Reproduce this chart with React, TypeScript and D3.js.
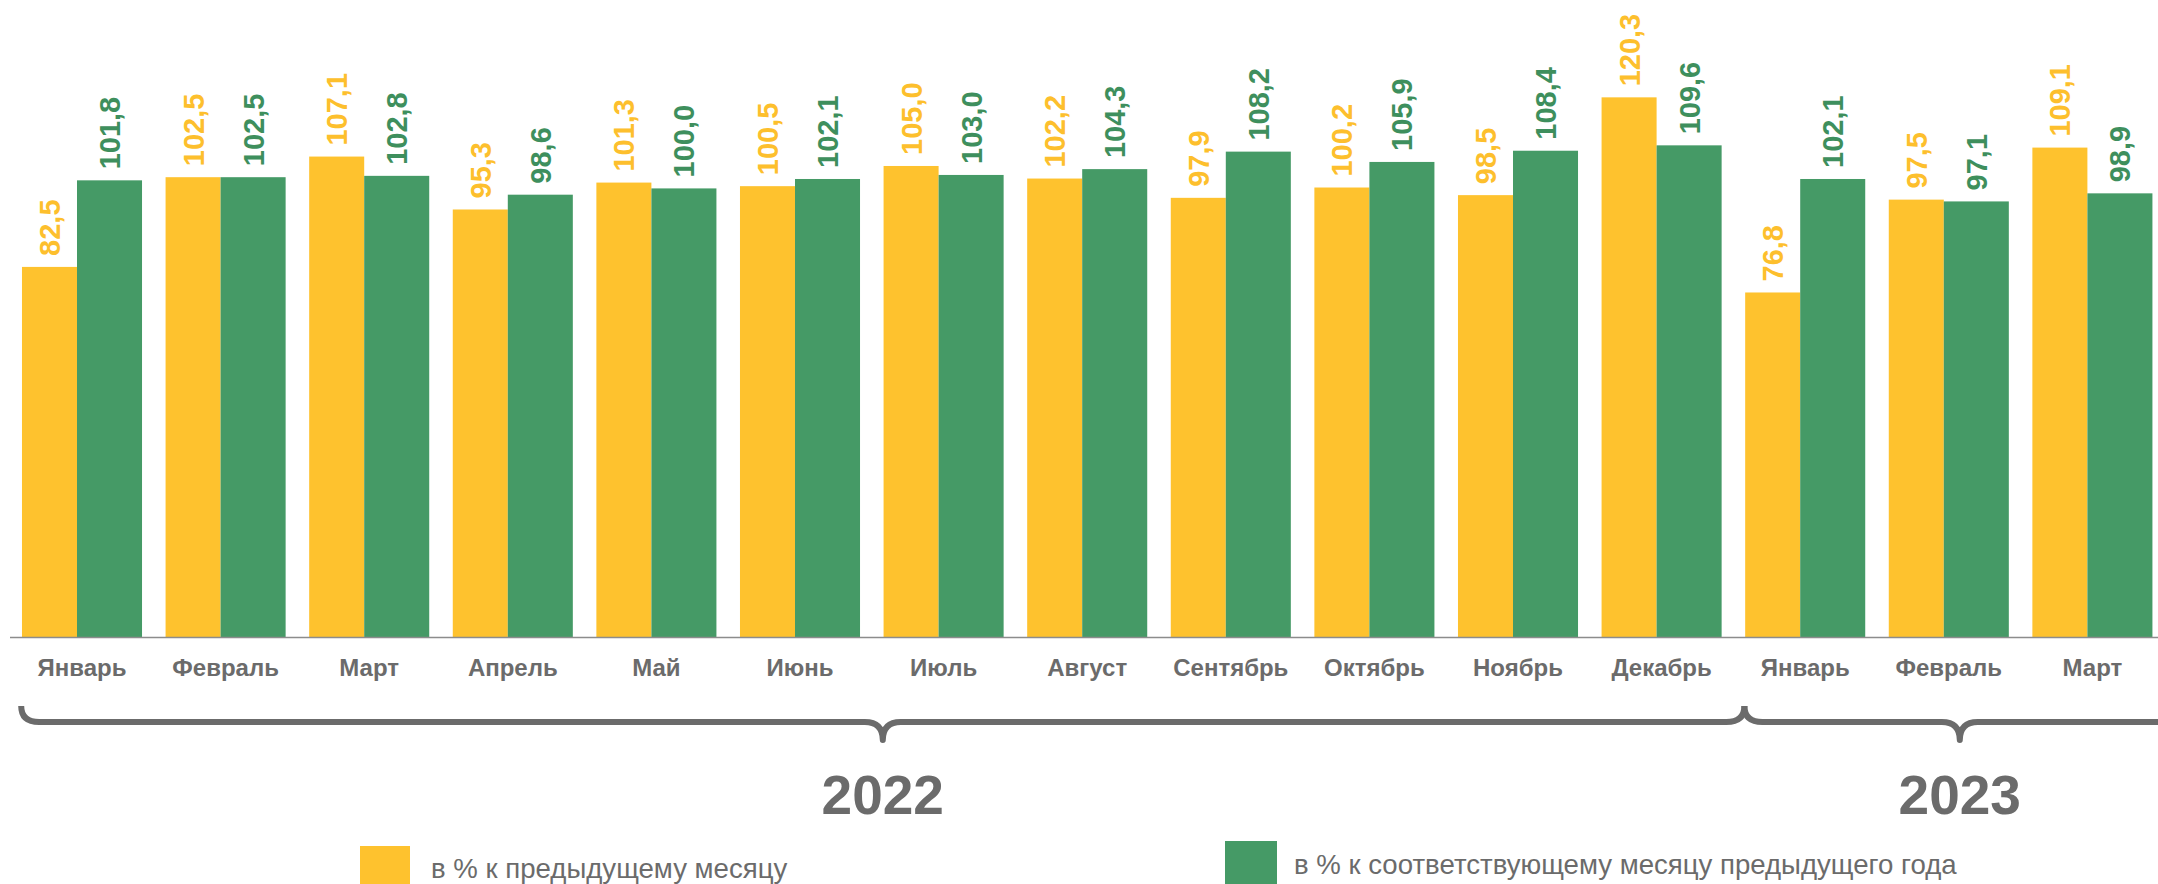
import React from "react";
import * as d3 from "d3";

const months = ["Январь","Февраль","Март","Апрель","Май","Июнь","Июль","Август","Сентябрь","Октябрь","Ноябрь","Декабрь","Январь","Февраль","Март"];
const prevMonth = [82.5,102.5,107.1,95.3,101.3,100.5,105.0,102.2,97.9,100.2,98.5,120.3,76.8,97.5,109.1];
const prevYear = [101.8,102.5,102.8,98.6,100.0,102.1,103.0,104.3,108.2,105.9,108.4,109.6,102.1,97.1,98.9];
const years = [
  { label: "2022", from: 0, to: 11 },
  { label: "2023", from: 12, to: 14 },
];
const legendLabels = ["в % к предыдущему месяцу", "в % к соответствующему месяцу предыдущего года"];

const W = 2158, H = 884;
const YELLOW = "#FEC22E";
const GREEN = "#459A66";
const YELLOW_TXT = "#FDBF2D";
const GREEN_TXT = "#3E8F5D";
const GRAY = "#6B6B6B";
const FONT = "'Liberation Sans', Arial, sans-serif";

export default function App() {
  const idx = months.map((_, i) => i);
  const x = d3.scaleBand<number>().domain(idx).range([10.2, 10.2 + 15 * 143.6]).paddingInner(0.164).paddingOuter(0.082);
  const y = d3.scaleLinear().domain([0, 142]).range([637, 0]);
  const bw = x.bandwidth();
  const yW = bw * (55 / 120);
  const gW = bw - yW;
  const fmt = (v: number) => v.toFixed(1).replace(".", ",");

  const brace = (x1: number, x2: number, top: number, line: number, tip: number) => {
    const r = 18;
    const mid = (x1 + x2) / 2;
    const p = d3.path();
    p.moveTo(x1, top);
    p.quadraticCurveTo(x1, line, x1 + r, line);
    p.lineTo(mid - r, line);
    p.quadraticCurveTo(mid, line, mid, tip);
    p.quadraticCurveTo(mid, line, mid + r, line);
    p.lineTo(x2 - r, line);
    p.quadraticCurveTo(x2, line, x2, top);
    return p.toString();
  };

  return (
    <svg width={W} height={H} style={{ position: "absolute", left: 0, top: 0, background: "#fff" }} fontFamily={FONT}>
      {idx.map((i) => {
        const x0 = x(i)!;
        return (
          <g key={i}>
            <rect x={x0} y={y(prevMonth[i])} width={yW} height={y(0) - y(prevMonth[i])} fill={YELLOW} />
            <rect x={x0 + yW} y={y(prevYear[i])} width={gW} height={y(0) - y(prevYear[i])} fill={GREEN} />
            <text transform={`translate(${x0 + yW / 2},${y(prevMonth[i]) - 11}) rotate(-90)`} dy="0.36em" fontSize={29} fontWeight="bold" fill={YELLOW_TXT}>{fmt(prevMonth[i])}</text>
            <text transform={`translate(${x0 + yW + gW / 2},${y(prevYear[i]) - 11}) rotate(-90)`} dy="0.36em" fontSize={29} fontWeight="bold" fill={GREEN_TXT}>{fmt(prevYear[i])}</text>
            <text x={x0 + bw / 2} y={667} dy="0.36em" textAnchor="middle" fontSize={24} fontWeight="bold" fill={GRAY}>{months[i]}</text>
          </g>
        );
      })}
      <line x1={10} x2={W} y1={y(0) + 0.5} y2={y(0) + 0.5} stroke="#8C8C8C" strokeWidth={1.5} />
      {years.map((yr) => {
        const x1 = x(yr.from)! - x.step() * x.paddingInner() / 2 + 11;
        const x2 = x(yr.to)! + bw + x.step() * x.paddingInner() / 2 + 11;
        const mid = (x1 + x2) / 2;
        return (
          <g key={yr.label}>
            <path d={brace(x1, x2, 706, 722, 740)} fill="none" stroke={GRAY} strokeWidth={6} strokeLinejoin="round" />
            <text x={mid} y={794} dy="0.36em" textAnchor="middle" fontSize={55} fontWeight="bold" fill={GRAY}>{yr.label}</text>
          </g>
        );
      })}
      <rect x={360} y={846} width={50} height={40} fill={YELLOW} />
      <text x={431} y={868} dy="0.36em" fontSize={27.6} fill={GRAY}>{legendLabels[0]}</text>
      <rect x={1225} y={841} width={52} height={45} fill={GREEN} />
      <text x={1294} y={864} dy="0.36em" fontSize={27.6} fill={GRAY}>{legendLabels[1]}</text>
    </svg>
  );
}
